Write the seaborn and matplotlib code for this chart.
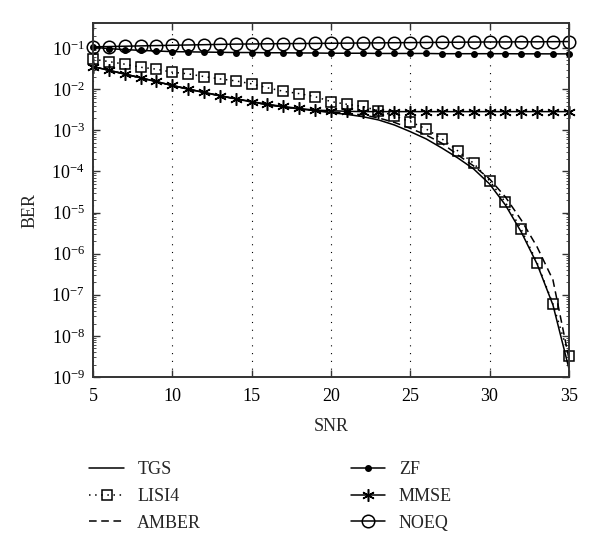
import numpy as np
import pandas as pd
import matplotlib
matplotlib.use("Agg")
import matplotlib.pyplot as plt
import matplotlib.ticker as mticker
import seaborn as sns

# SNR axis (dB)
snr = list(range(5, 36))

# BER curves
tgs = [0.0355, 0.0288, 0.0233, 0.0188, 0.0152, 0.0123, 0.0100, 0.0083, 0.0069, 0.0058,
       0.0049, 0.0042, 0.0037, 0.0033, 0.0030, 0.0027, 0.00244, 0.00215, 0.00179, 0.00135,
       9.3e-4, 6.2e-4, 3.7e-4, 2.13e-4, 1.15e-4, 4.97e-5, 1.53e-5, 3.37e-6, 5.6e-7, 5.65e-8,
       1.66e-9]
lisi4 = [0.0537, 0.0470, 0.0406, 0.0343, 0.0307, 0.0259, 0.0236, 0.0203, 0.0178, 0.0159,
         0.0135, 0.0108, 0.0089, 0.0078, 0.0066, 0.0050, 0.0043, 0.0038, 0.0030, 0.00224,
         0.00163, 0.00108, 6.2e-4, 3.16e-4, 1.58e-4, 5.97e-5, 1.78e-5, 3.93e-6, 6.04e-7, 5.97e-8,
         3.3e-9]
amber = [0.0355, 0.0288, 0.0233, 0.0188, 0.0152, 0.0123, 0.0100, 0.0083, 0.0069, 0.0058,
         0.0049, 0.0042, 0.0037, 0.0033, 0.0030, 0.0028, 0.00258, 0.00237, 0.00200, 0.00156,
         0.00112, 7.7e-4, 4.85e-4, 2.52e-4, 1.36e-4, 6.6e-5, 2.4e-5, 6.6e-6, 1.46e-6, 2.3e-7,
         2.9e-9]
zf = [0.105, 0.097, 0.092, 0.088, 0.085, 0.082, 0.081, 0.080, 0.079, 0.078,
      0.078, 0.077, 0.077, 0.076, 0.076, 0.075, 0.075, 0.075, 0.074, 0.074,
      0.074, 0.074, 0.073, 0.073, 0.073, 0.073, 0.073, 0.0725, 0.0725, 0.0723,
      0.0723]
mmse = [0.0355, 0.029, 0.0235, 0.0190, 0.0154, 0.0124, 0.0101, 0.0084, 0.0070, 0.0059,
        0.0050, 0.0043, 0.0038, 0.0034, 0.0031, 0.0030, 0.0029, 0.00285, 0.00285, 0.00285,
        0.00285, 0.00285, 0.00285, 0.00285, 0.00285, 0.00285, 0.00285, 0.00285, 0.00285, 0.00285,
        0.00285]
noeq = [0.107, 0.109, 0.111, 0.113, 0.115, 0.117, 0.119, 0.121, 0.123, 0.125,
        0.126, 0.127, 0.128, 0.129, 0.130, 0.131, 0.132, 0.133, 0.134, 0.135,
        0.136, 0.137, 0.138, 0.139, 0.140, 0.141, 0.141, 0.142, 0.142, 0.143,
        0.144]

series = ["TGS", "LISI4", "AMBER", "ZF", "MMSE", "NOEQ"]
values = [tgs, lisi4, amber, zf, mmse, noeq]

df = pd.DataFrame({"SNR": snr * len(series),
                   "BER": sum(values, []),
                   "method": np.repeat(series, len(snr))})

sns.set_theme(style="ticks")
plt.rcParams["font.family"] = ["Liberation Serif", "DejaVu Serif"]
plt.rcParams["mathtext.fontset"] = "stix"

# line styles for each method
styles = {
    "TGS":   dict(linestyle="-", marker=None),
    "LISI4": dict(linestyle=(0, (1, 3)), marker="s", markersize=7,
                  markerfacecolor="none", markeredgecolor="black", markeredgewidth=1.1),
    "AMBER": dict(linestyle=(0, (5, 3)), marker=None),
    "ZF":    dict(linestyle="-", marker="o", markersize=4,
                  markerfacecolor="black", markeredgecolor="black", markeredgewidth=1),
    "MMSE":  dict(linestyle="-", marker=(6, 2, 0), markersize=9,
                  markeredgecolor="black", markeredgewidth=1.1),
    "NOEQ":  dict(linestyle="-", marker="o", markersize=9,
                  markerfacecolor="none", markeredgecolor="black", markeredgewidth=1.1),
}

fig = plt.figure(figsize=(6, 5.49), dpi=100)
ax = fig.add_axes([0.155, 0.3133, 0.793, 0.645])

for name in series:
    sub = df[df["method"] == name]
    sns.lineplot(data=sub, x="SNR", y="BER", ax=ax, color="black", linewidth=1.1,
                 label=name, clip_on=False, **styles[name])

ax.set_yscale("log")
ax.set_xlim(5, 35)
ax.set_ylim(1e-9, 0.41)
ax.set_xticks([5, 10, 15, 20, 25, 30, 35])
ax.set_yticks([10.0 ** k for k in range(-9, 0)])
ax.yaxis.set_minor_locator(mticker.LogLocator(base=10, subs=np.arange(2, 10), numticks=30))
ax.yaxis.set_minor_formatter(mticker.NullFormatter())

ax.xaxis.grid(True, color="black", linestyle=(0, (1, 6)), linewidth=0.8)
ax.yaxis.grid(False)

for side in ax.spines.values():
    side.set_linewidth(1.4)
    side.set_color("#333333")

ax.tick_params(which="both", direction="in", top=True, right=True, colors="#333333",
               labelcolor="black", labelsize=13)
ax.tick_params(which="major", length=5, width=1)
ax.tick_params(which="minor", length=2.5, width=0.6)
ax.tick_params(axis="x", which="major", pad=8)
ax.tick_params(axis="y", which="major", pad=6)

ax.set_xlabel("SNR", fontsize=13, labelpad=9)
ax.set_ylabel("BER", fontsize=13)
ax.yaxis.set_label_coords(-0.115, 0.47)

handles, labels = ax.get_legend_handles_labels()
ax.legend_.remove()
fig.legend(handles, labels, ncol=2, loc="upper left", bbox_to_anchor=(0.122, 0.19),
           frameon=False, fontsize=13, handlelength=1.9, handletextpad=0.75,
           columnspacing=8.3, labelspacing=0.55)

fig.savefig("out.png", dpi=100)
